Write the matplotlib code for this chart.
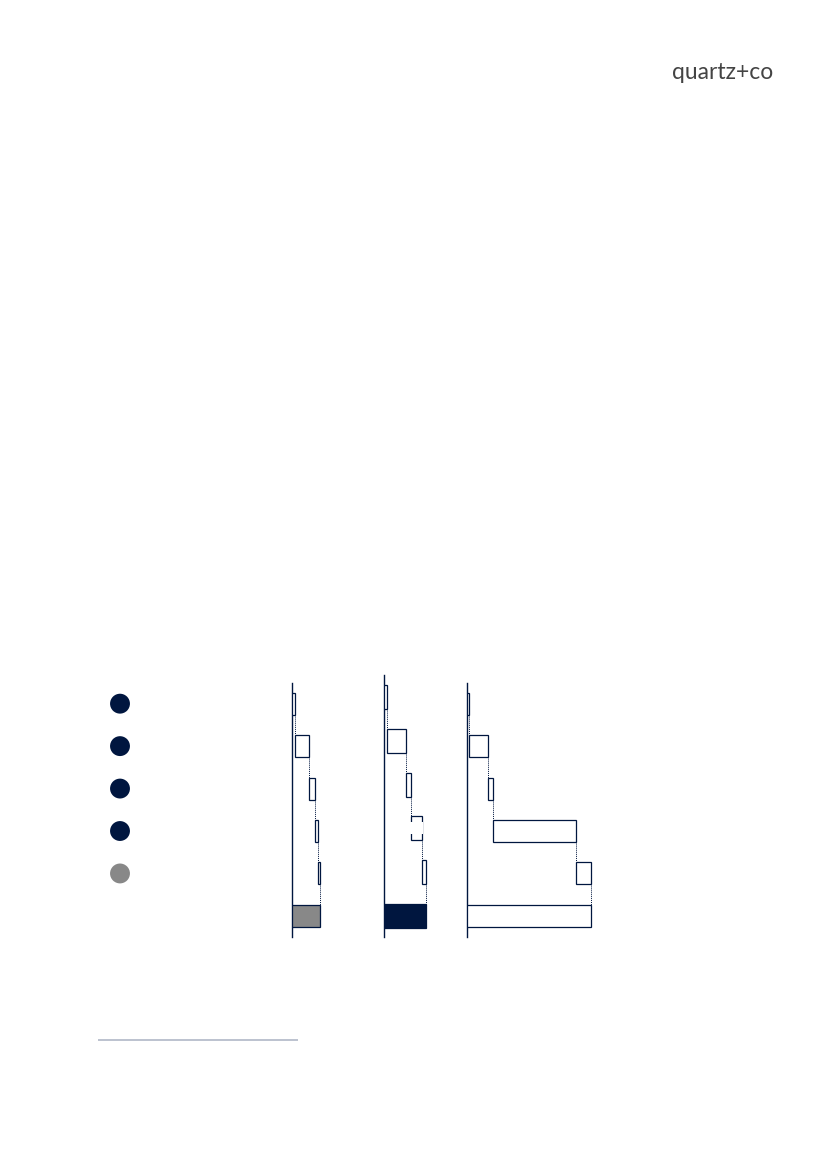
import matplotlib
matplotlib.use("Agg")
import matplotlib.pyplot as plt
from matplotlib.patches import Rectangle
import numpy as np

# ---- data ----
steps = ["Step 1", "Step 2", "Step 3", "Step 4", "Step 5", "Total"]
chart1_increments = [3.4, 14.0, 5.6, 3.4, 2.0]
chart2_increments = [3.0, 19.0, 5.4, 11.0, 3.6]
chart3_increments = [2.4, 19.0, 5.0, 82.6, 15.4]
marker_colors = ["#00163F", "#00163F", "#00163F", "#00163F", "#888888"]
logo_text = "quartz+co"

NAVY = "#00163F"
GREY = "#888888"
W, H = 827, 1169

fig = plt.figure(figsize=(W / 100, H / 100), dpi=100)
fig.patch.set_facecolor("white")


def px_axes(x0, y0, x1, y1):
    return fig.add_axes([x0 / W, 1 - y1 / H, (x1 - x0) / W, (y1 - y0) / H])


def waterfall(ax, incs, total_fc, total_ec, bar_h, broken=None):
    incs = np.asarray(incs, dtype=float)
    ends = np.cumsum(incs)
    starts = ends - incs
    n = len(incs)
    lw = 0.9
    for i in range(n):
        ax.barh(i, incs[i], left=starts[i], height=bar_h, color="white",
                edgecolor=NAVY, linewidth=lw, zorder=3)
    total = ends[-1]
    ax.barh(n, total, left=0, height=bar_h, color=total_fc,
            edgecolor=total_ec, linewidth=lw, zorder=3)
    # connectors
    for i in range(n):
        ax.plot([ends[i], ends[i]], [i + bar_h / 2, i + 1 - bar_h / 2],
                color=NAVY, lw=0.7, ls=(0, (1, 1)), zorder=2)
    if broken is not None:
        i = broken
        ax.add_patch(Rectangle((starts[i] - 1.0, i - 0.14), incs[i] + 2.0, 0.28,
                               facecolor="white", edgecolor="none", zorder=4))
    ax.set_xlim(0, 200)
    for s in ["top", "right", "bottom"]:
        ax.spines[s].set_visible(False)
    ax.spines["left"].set_color(NAVY)
    ax.spines["left"].set_linewidth(1.0)
    ax.set_xticks([])
    ax.set_yticks([])
    ax.patch.set_alpha(0)


# chart 1
ax1 = px_axes(291.8, 683.3, 491.8, 936.7)
waterfall(ax1, chart1_increments, GREY, NAVY, 0.52)
ax1.set_ylim(5.49, -0.48)

# chart 2
ax2 = px_axes(383.8, 675.0, 583.8, 936.7)
waterfall(ax2, chart2_increments, NAVY, NAVY, 0.55, broken=3)
ax2.set_ylim(5.48, -0.51)

# chart 3
ax3 = px_axes(466.8, 683.3, 666.8, 936.7)
waterfall(ax3, chart3_increments, "white", NAVY, 0.52)
ax3.set_ylim(5.49, -0.48)

# markers on the left
axm = px_axes(100, 683.3, 140, 936.7)
axm.scatter(np.zeros(len(marker_colors)), np.arange(len(marker_colors)),
            s=205, c=marker_colors, edgecolors="none")
axm.set_xlim(-1, 1)
axm.set_ylim(5.49, -0.48)
axm.axis("off")

# logo
fig.text(773.5 / W, 1 - 79 / H, logo_text, ha="right", va="baseline",
         fontsize=16.5, color="#444444", family=["Lato", "DejaVu Sans"],
         fontweight="normal")

# footnote separator
axl = px_axes(98.3, 1030, 298.3, 1050)
axl.plot([0, 1], [0.5, 0.5], color="#AAB2C2", lw=1.1, solid_capstyle="butt")
axl.set_xlim(0, 1)
axl.set_ylim(0, 1)
axl.axis("off")

fig.savefig("out.png", dpi=100, facecolor="white")
